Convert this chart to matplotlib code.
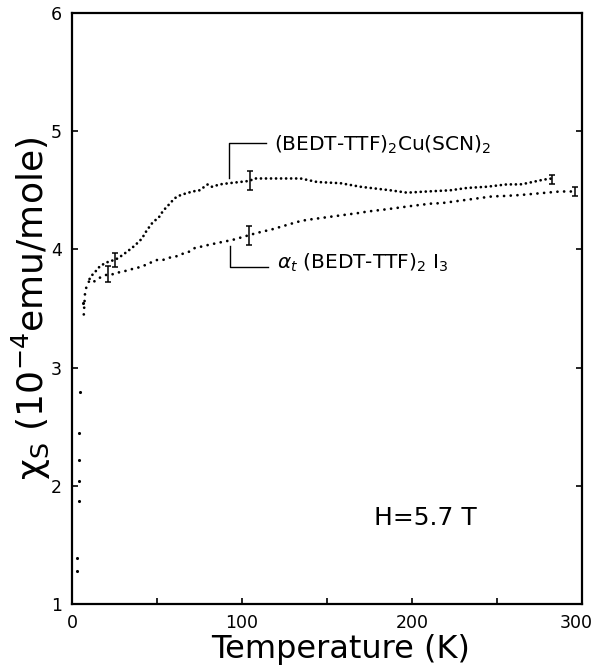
import matplotlib
matplotlib.use("Agg")
import matplotlib.pyplot as plt
from matplotlib.transforms import ScaledTranslation

plt.rcParams['font.family'] = ['DejaVu Sans']
plt.rcParams['mathtext.fontset'] = 'dejavusans'

# (BEDT-TTF)2Cu(SCN)2
cu_T = [10.4, 12.3, 14.3, 16.6, 19.2, 22.1, 25.1, 27.6, 30.5, 33.3, 36.8, 41.1, 44.0,
        47.6, 51.1, 53.8, 55.9, 57.7, 60.3, 62.2, 66.2, 71.0, 75.0, 79.9, 82.4, 87.0,
        92.4, 104.7, 107.0, 120.8, 134.5, 144.3, 158.0, 169.7, 181.4, 187.3, 197.1,
        208.9, 222.5, 232.4, 244.0, 255.8, 263.7, 267.6, 277.3, 282.3]
cu_chi = [3.75, 3.79, 3.82, 3.86, 3.88, 3.90, 3.91, 3.93, 3.96, 3.99, 4.03, 4.09, 4.16,
          4.23, 4.27, 4.33, 4.36, 4.39, 4.43, 4.45, 4.47, 4.49, 4.50, 4.55, 4.53, 4.55,
          4.56, 4.58, 4.60, 4.60, 4.60, 4.57, 4.56, 4.53, 4.51, 4.50, 4.48,
          4.49, 4.50, 4.52, 4.53, 4.55, 4.55, 4.56, 4.59, 4.60]

# alpha_t-(BEDT-TTF)2I3
i3_T = [7.0, 7.8, 8.8, 10.4, 13.3, 16.3, 18.2, 21.0, 25.0, 28.4, 32.3, 36.8, 40.1, 43.6,
        46.6, 49.5, 53.4, 57.4, 61.2, 64.2, 67.5, 70.1, 72.0, 75.0, 77.9, 80.9, 87.5,
        94.4, 104.1, 109.0, 117.8, 129.6, 134.5, 138.4, 154.0, 169.7, 173.6, 185.4,
        201.0, 212.8, 216.7, 232.4, 248.0, 251.9, 263.7, 287.0, 296.0]
i3_chi = [3.45, 3.65, 3.69, 3.74, 3.73, 3.76, 3.77, 3.79, 3.79, 3.81, 3.82, 3.84, 3.85, 3.87,
          3.89, 3.91, 3.91, 3.93, 3.94, 3.96, 3.97, 3.99, 4.01, 4.02, 4.03, 4.04, 4.06,
          4.08, 4.12, 4.14, 4.17, 4.22, 4.24, 4.25, 4.28, 4.31, 4.32, 4.34,
          4.37, 4.39, 4.39, 4.42, 4.45, 4.45, 4.46, 4.49, 4.49]

# low-temperature drop points
low_T = [6.7, 4.95, 4.4, 4.0, 4.0, 4.0, 3.0, 3.0]
low_chi = [3.55, 2.79, 2.45, 2.22, 2.04, 1.87, 1.39, 1.28]

# error bars
cu_err_T = [25.1, 104.7, 282.3]
cu_err_chi = [3.91, 4.58, 4.59]
cu_err = [0.06, 0.08, 0.04]
i3_err_T = [21.0, 104.1, 296.0]
i3_err_chi = [3.79, 4.12, 4.49]
i3_err = [0.07, 0.08, 0.04]

x_ticks = [0, 50, 100, 150, 200, 250, 300]
x_tick_labels = ['0', '', '100', '', '200', '', '300']
y_ticks = [1, 2, 3, 4, 5, 6]
y_tick_labels = ['1', '2', '3', '4', '5', '6']

fig = plt.figure(figsize=(5.96, 6.69), dpi=100)
ax = fig.add_axes([71.9/596, (669-604)/669, (582-71.9)/596, (604-13)/669])

ax.plot(cu_T, cu_chi, color='black', linestyle=(0, (0.01, 1.8)), linewidth=2.0,
        dash_capstyle='round')
ax.plot(i3_T, i3_chi, color='black', linestyle=(0, (0.01, 2.4)), linewidth=2.0,
        dash_capstyle='round')
ax.scatter(low_T, low_chi, s=5, color='black', linewidths=0)

ax.errorbar(cu_err_T, cu_err_chi, yerr=cu_err, fmt='none', ecolor='black',
            elinewidth=1.1, capsize=2.2, capthick=1.1)
ax.errorbar(i3_err_T, i3_err_chi, yerr=i3_err, fmt='none', ecolor='black',
            elinewidth=1.1, capsize=2.2, capthick=1.1)

# leader lines
ax.plot([92.2, 92.2, 113.9], [4.60, 4.90, 4.90], color='black', linewidth=1.0)
ax.plot([92.8, 92.8, 115.6], [4.03, 3.855, 3.855], color='black', linewidth=1.0)

ax.text(118.6, 4.834, r'(BEDT-TTF)$_2$Cu(SCN)$_2$', fontsize=14.5, va='baseline', ha='left')
ax.text(120.8, 3.84, r'$\alpha_t$ (BEDT-TTF)$_2$ I$_3$', fontsize=14.5, va='baseline', ha='left')
ax.text(177.5, 1.73, 'H=5.7 T', fontsize=18, va='center', ha='left')

ax.set_xlim(0, 300)
ax.set_ylim(1, 6)
ax.set_xticks(x_ticks)
ax.set_xticklabels(x_tick_labels)
ax.set_yticks(y_ticks)
ax.set_yticklabels(y_tick_labels)
ax.tick_params(axis='both', direction='in', length=4.5, width=1.2, labelsize=12.5, pad=7)
ax.tick_params(axis='y', right=True)
for s in ax.spines.values():
    s.set_linewidth(1.6)

# shift the last x tick label slightly left so it stays inside the figure
last = ax.get_xticklabels()[-1]
last.set_transform(last.get_transform() + ScaledTranslation(-6/100, 0, fig.dpi_scale_trans))

ax.set_xlabel('Temperature (K)', fontsize=23)
ax.xaxis.set_label_coords(0.526, -0.05)
ax.set_ylabel('χ$_{\\mathrm{S}}$ (10$^{-4}$emu/mole)', fontsize=26)
ax.yaxis.set_label_coords(-0.038, 0.5)

fig.savefig('out.png', dpi=100)
